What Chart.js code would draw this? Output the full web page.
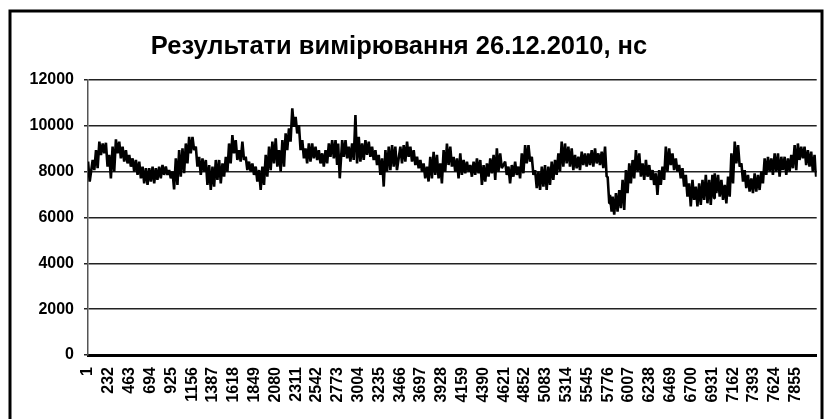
<!DOCTYPE html>
<html>
<head>
<meta charset="utf-8">
<script src="https://cdn.jsdelivr.net/npm/chart.js@4"></script>
<style>
  html, body { margin: 0; padding: 0; background: #fff; }
</style>
</head>
<body>
<canvas id="chart" width="827" height="419"></canvas>
<script>
// chart title (nanoseconds)
const chartTitle = 'Результати вимірювання 26.12.2010, нс';

// x-axis labels every 231 measurements
const xTickLabels = [1, 232, 463, 694, 925, 1156, 1387, 1618, 1849, 2080, 2311, 2542, 2773,
  3004, 3235, 3466, 3697, 3928, 4159, 4390, 4621, 4852, 5083, 5314, 5545, 5776, 6007,
  6238, 6469, 6700, 6931, 7162, 7393, 7624, 7855];
const yTickValues = [0, 2000, 4000, 6000, 8000, 10000, 12000];

const sampleIndex = [
  1, 52, 89, 126, 163, 199, 236, 273, 310, 347, 384, 421, 458, 495, 532, 569, 606, 643, 680, 717, 753, 790, 827, 864, 901, 938, 975, 1012, 1049, 1086, 1123,
  1160, 1197, 1234, 1271, 1308, 1345, 1382, 1419, 1456, 1493, 1530, 1566, 1603, 1640, 1677, 1714, 1751, 1788, 1825, 1862, 1899, 1936, 1973, 2010, 2047, 2084, 2121, 2158, 2194, 2231, 2268,
  2305, 2342, 2379, 2415, 2452, 2489, 2526, 2563, 2600, 2637, 2674, 2711, 2748, 2777, 2822, 2859, 2895, 2932, 2969, 3006, 3043, 3080, 3117, 3154, 3191, 3228, 3265, 3302, 3339, 3376, 3412,
  3468, 3505, 3542, 3579, 3616, 3653, 3690, 3726, 3763, 3800, 3837, 3874, 3911, 3948, 3985, 4022, 4059, 4096, 4133, 4170, 4207, 4244, 4281, 4318, 4355, 4392, 4429, 4466, 4503, 4539, 4576,
  4631, 4668, 4705, 4742, 4779, 4816, 4853, 4890, 4927, 4964, 5001, 5038, 5074, 5111, 5148, 5185, 5222, 5259, 5296, 5333, 5370, 5407, 5444, 5481, 5518, 5555, 5592, 5629, 5666, 5703, 5740, 5769,
  5795, 5824, 5861, 5898, 5935, 5972, 6009, 6046, 6083, 6120, 6157, 6194, 6231, 6268, 6304, 6341, 6378, 6415, 6452, 6489, 6526, 6563, 6600, 6637, 6674, 6711, 6748, 6785, 6822, 6859, 6896, 6932,
  6958, 6995, 7032, 7069, 7106, 7143, 7180, 7217, 7254, 7290, 7327, 7364, 7401, 7438, 7475, 7512, 7549, 7586, 7623, 7660, 7697, 7734, 7771, 7808, 7845, 7881, 7918, 7955, 7992, 8029, 8066
];

// upper edge of the noisy trace at each sample, ns
const bandHigh = [
  8440, 8510, 8940, 9310, 9230, 9260, 8730, 9090, 9410, 9310, 9090, 8940, 8730, 8580, 8510, 8440, 8220, 8150, 8150, 8220, 8150, 8220, 8290, 8220, 8070, 8000, 8580, 8940, 9020, 9230, 9520,
  9520, 9090, 8650, 8580, 8510, 8290, 8220, 8510, 8510, 8360, 8650, 9230, 9600, 9380, 8940, 9310, 8650, 8440, 8360, 8220, 8070, 8220, 8730, 9090, 9310, 9450, 8940, 9380, 9670, 9890, 10760,
  10390, 10030, 9380, 9020, 9230, 9230, 9090, 8940, 8800, 8940, 9230, 9380, 9380, 9230, 9380, 9380, 9090, 9230, 10470, 9520, 9230, 9380, 9310, 9090, 8940, 8730, 8580, 8940, 9090, 9160, 9090,
  9090, 9160, 9310, 9090, 8940, 8650, 8510, 8360, 8220, 8650, 8870, 8730, 8360, 8940, 9230, 9090, 8650, 8580, 8800, 8510, 8440, 8290, 8440, 8580, 8510, 8290, 8360, 8580, 8730, 9020, 8800,
  8440, 8220, 8290, 8440, 8220, 8800, 9160, 9160, 8650, 8070, 8000, 8220, 8290, 8220, 8440, 8510, 8800, 9310, 9230, 9090, 9020, 8730, 8650, 8870, 8800, 8800, 8940, 9020, 8800, 8870, 9090, 7780,
  6990, 6910, 7060, 7200, 7640, 8070, 8360, 8510, 8940, 8800, 8360, 8510, 8290, 8070, 7930, 8070, 8220, 9090, 9020, 8800, 8580, 8290, 8150, 7860, 7490, 7640, 7350, 7490, 7640, 7860, 7640, 7860,
  7930, 7860, 7640, 7420, 7780, 8800, 9310, 9160, 8360, 8070, 7860, 7710, 7930, 7860, 8000, 8580, 8650, 8580, 8800, 8800, 8650, 8650, 8580, 8730, 9160, 9230, 9090, 9090, 8940, 8870, 8730
];

// lower edge of the noisy trace just after each sample, ns
const bandLow = [
  7570, 8070, 8150, 8730, 8800, 8220, 7710, 8000, 8800, 8580, 8440, 8360, 8220, 8000, 7860, 7710, 7490, 7420, 7570, 7490, 7640, 7710, 7860, 7860, 7710, 7230, 7420, 7780, 7930, 8360, 8800,
  8940, 8220, 7860, 8000, 7420, 7200, 7350, 7640, 7490, 7780, 8000, 8360, 8800, 8510, 8440, 8510, 8070, 8000, 7860, 7570, 7200, 7420, 7780, 8070, 8360, 8220, 8000, 8220, 8940, 9310, 9960,
  9670, 8940, 8580, 8360, 8440, 8580, 8510, 8360, 8220, 8360, 8650, 8580, 8290, 7710, 8650, 8580, 8440, 8510, 8360, 8440, 8510, 8730, 8650, 8510, 8290, 7860, 7350, 8000, 8070, 8220, 8070,
  8360, 8440, 8650, 8440, 8290, 8150, 8000, 7710, 7570, 7710, 7860, 7710, 7490, 8000, 8290, 8220, 8000, 7710, 7860, 7930, 8000, 7780, 7860, 7930, 7420, 7570, 7780, 7930, 7640, 8000, 8150,
  7860, 7490, 7780, 7860, 7710, 7930, 8360, 8440, 7860, 7280, 7200, 7350, 7200, 7420, 7640, 7860, 8000, 8220, 8360, 8220, 8070, 8150, 8070, 8290, 8220, 8290, 8220, 8360, 8290, 8150, 7780, 6620,
  6260, 6120, 6260, 6410, 6330, 7060, 7490, 7710, 8000, 7780, 7640, 7780, 7640, 7420, 6990, 7420, 7640, 8000, 8290, 8070, 8000, 7710, 7350, 6910, 6480, 6770, 6480, 6550, 6770, 6620, 6550, 6840,
  7060, 6910, 6770, 6620, 6910, 7490, 8360, 8220, 7570, 7280, 7130, 7060, 7130, 7200, 7490, 7860, 8000, 7860, 8000, 7780, 8070, 7860, 8000, 8150, 8070, 8510, 8580, 8290, 8220, 8000, 7780
];

const lastIndex = 8090;

// zig-zag between upper and lower edge so the trace keeps its jitter
const points = [];
sampleIndex.forEach((idx, i) => {
  points.push({ x: idx, y: bandHigh[i] });
  points.push({ x: idx + 18, y: bandLow[i] });
});

const tickFont = { family: '"Liberation Sans", Arial, sans-serif', size: 16, weight: 'bold' };

// frame around the whole chart
const framePlugin = {
  id: 'frame',
  beforeDraw(chart) {
    const c = chart.ctx;
    c.save();
    c.fillStyle = '#fff';
    c.fillRect(0, 0, chart.width, chart.height);
    c.strokeStyle = '#000';
    c.lineWidth = 3;
    c.strokeRect(10, 11, 812, 440);
    c.restore();
  }
};

// title is centred a bit left of the plot, like the original
const titlePlugin = {
  id: 'titleText',
  afterDraw(chart) {
    const c = chart.ctx;
    c.save();
    c.font = 'bold 25.5px "Liberation Sans", Arial, sans-serif';
    c.fillStyle = '#000';
    c.textAlign = 'center';
    c.textBaseline = 'alphabetic';
    c.fillText(chartTitle, 399, 54);
    c.restore();
  }
};

const ctx = document.getElementById('chart').getContext('2d');
new Chart(ctx, {
  type: 'line',
  data: {
    datasets: [{
      data: points,
      borderColor: '#000',
      borderWidth: 2.6,
      borderJoinStyle: 'bevel',
      pointRadius: 0,
      tension: 0,
      fill: false
    }]
  },
  options: {
    responsive: false,
    animation: false,
    layout: { padding: { top: 80, right: 9, bottom: 0, left: 0 } },
    plugins: {
      legend: { display: false },
      tooltip: { enabled: false },
      title: { display: false }
    },
    scales: {
      x: {
        type: 'linear',
        min: 0,
        max: lastIndex,
        grid: { display: false, drawTicks: false },
        border: { display: true, color: '#000', width: 3 },
        afterBuildTicks: scale => { scale.ticks = xTickLabels.map(v => ({ value: v })); },
        afterFit: scale => { scale.height = 64; },
        ticks: {
          autoSkip: false,
          minRotation: 90,
          maxRotation: 90,
          padding: 12,
          color: '#000',
          font: tickFont,
          callback: v => String(v)
        }
      },
      y: {
        min: 0,
        max: 12000,
        afterBuildTicks: scale => { scale.ticks = yTickValues.map(v => ({ value: v })); },
        afterFit: scale => { scale.width = 88; },
        grid: { color: '#222', lineWidth: 1.5, tickLength: 4 },
        border: { display: true, color: '#555', width: 1.5 },
        ticks: {
          padding: 10,
          color: '#000',
          font: tickFont,
          callback: v => String(v)
        }
      }
    }
  },
  plugins: [framePlugin, titlePlugin]
});
</script>
</body>
</html>
